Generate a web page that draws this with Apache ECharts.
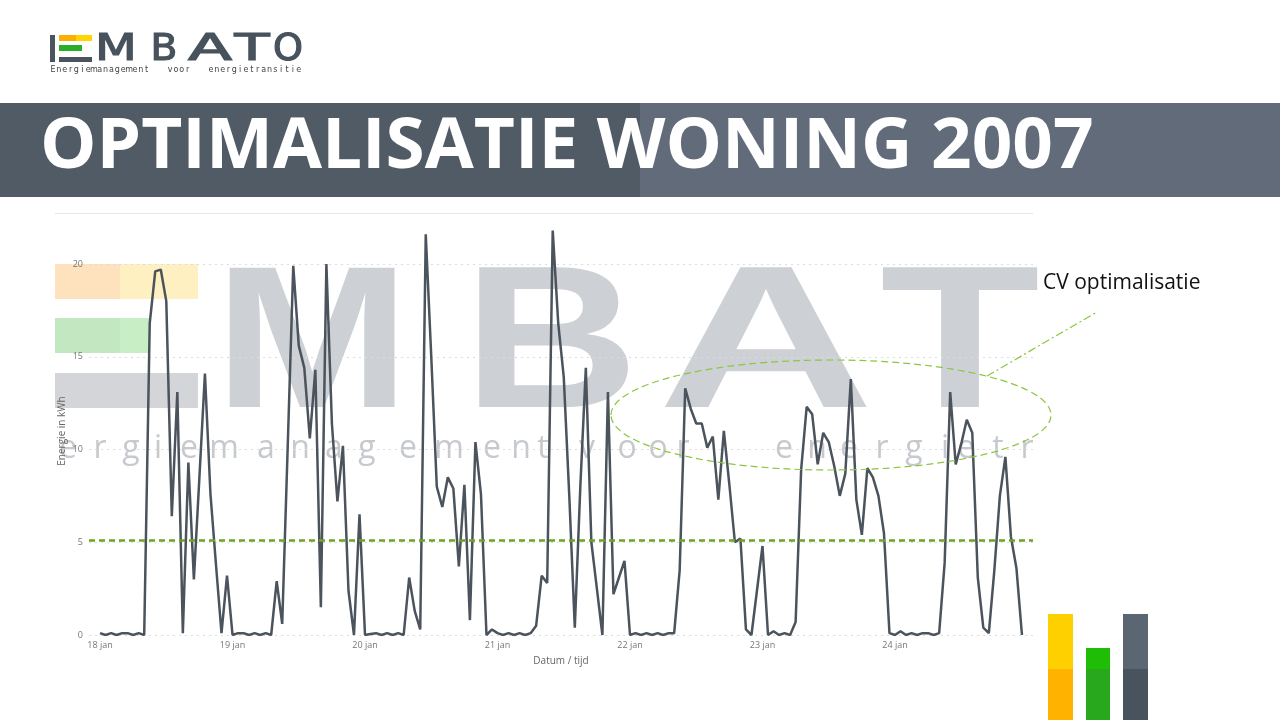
<!DOCTYPE html>
<html>
<head>
<meta charset="utf-8">
<title>Optimalisatie woning 2007</title>
<script src="https://cdn.jsdelivr.net/npm/echarts@6/dist/echarts.min.js"></script>
<style>
  html, body { margin: 0; padding: 0; background: #fff; }
  #myChart { width: 1280px; height: 720px; }
</style>
</head>
<body>
<div id="myChart"></div>
<script>
// uurwaarden energie (kWh) per dag, 18 t/m 24 jan
var dag18 = [0.1, 0.0, 0.1, 0.0, 0.1, 0.1, 0.0, 0.1, 0.0, 16.8, 19.6, 19.7, 18.0, 6.4, 13.1, 0.1, 9.3, 3.0, 8.5, 14.1, 7.6, 3.8, 0.1, 3.2];
var dag19 = [0.0, 0.1, 0.1, 0.0, 0.1, 0.0, 0.1, 0.0, 2.9, 0.6, 10.2, 19.9, 15.6, 14.4, 10.6, 14.3, 1.5, 20.0, 11.4, 7.2, 10.2, 2.4, 0.0, 6.5];
var dag20 = [0.0, 0.05, 0.1, 0.0, 0.1, 0.0, 0.1, 0.0, 3.1, 1.3, 0.3, 21.6, 15.0, 8.0, 6.9, 8.5, 7.9, 3.7, 8.1, 0.8, 10.4, 7.6, 0.0, 0.3];
var dag21 = [0.1, 0.0, 0.1, 0.0, 0.1, 0.0, 0.1, 0.5, 3.2, 2.8, 21.8, 16.8, 13.9, 7.5, 0.4, 8.0, 14.4, 5.0, 2.5, 0.0, 13.1, 2.2, 3.1, 4.0];
var dag22 = [0.0, 0.1, 0.0, 0.1, 0.0, 0.1, 0.0, 0.1, 0.1, 3.5, 13.3, 12.2, 11.4, 11.4, 10.1, 10.7, 7.3, 11.0, 8.1, 5.0, 5.2, 0.3, 0.0, 2.4];
var dag23 = [4.8, 0.0, 0.2, 0.0, 0.1, 0.0, 0.7, 8.9, 12.3, 11.9, 9.2, 10.9, 10.4, 9.1, 7.5, 8.7, 13.8, 7.3, 5.4, 9.0, 8.5, 7.5, 5.5, 0.1];
var dag24 = [0.0, 0.2, 0.0, 0.1, 0.0, 0.1, 0.1, 0.0, 0.1, 3.9, 13.1, 9.2, 10.3, 11.6, 10.9, 3.1, 0.4, 0.1, 3.5, 7.5, 9.6, 5.3, 3.6, 0.0];

var dagLabels = ['18 jan', '19 jan', '20 jan', '21 jan', '22 jan', '23 jan', '24 jan'];
var dagTicks = [0, 24, 48, 72, 96, 120, 144];
var yTicks = [0, 5, 10, 15, 20];
var drempel = 5.1;

var uren = dag18.concat(dag19, dag20, dag21, dag22, dag23, dag24);

// watermerk (EMBATO logo op achtergrond)
var wmText = 'ergiemanagementvoorenergietr';
var wmX = [68, 100, 131, 158, 189, 224, 266, 300, 334, 367, 408, 449, 492, 521, 543, 587, 627, 658, 683, 784, 817, 849, 882, 914, 945, 966, 998, 1027];

function txt(s, x, y, opt) {
  var st = {
    text: s, fill: opt.fill, fontSize: opt.size, fontFamily: opt.family || 'Open Sans',
    fontWeight: opt.weight || 'normal',
    align: opt.align || 'center', textAlign: opt.align || 'center',
    verticalAlign: 'middle', textVerticalAlign: 'middle'
  }
  if (opt.stroke) { st.stroke = opt.fill; st.lineWidth = opt.stroke }
  return { type: 'text', x: x, y: y, z: opt.z || 1, scaleX: opt.sx || 1, style: st }
}

function rect(x, y, w, h, fill, z) {
  return { type: 'rect', z: z || 1, shape: { x: x, y: y, width: w, height: h }, style: { fill: fill } }
}

var g = []
// titelbalk
g.push(rect(0, 103, 640, 94, '#515b66'))
g.push(rect(640, 103, 640, 94, '#626b7a'))
g.push(txt('OPTIMALISATIE WONING 2007', 40, 148, { fill: '#fff', size: 69, weight: 'bold', align: 'left', z: 5, sx: 1.03 }))

// logo linksboven
g.push(rect(50, 35, 5, 27, '#4a545f'))
g.push(rect(59, 35, 17, 6, '#f9b000'))
g.push(rect(76, 35, 16, 6, '#ffd400'))
g.push(rect(59, 45, 23, 6, '#2aae2a'))
g.push(rect(59, 57, 33, 5, '#4a545f'))
var logoL = ['M', 'B', 'A', 'T', 'O']
var logoX = [116, 164, 210, 252, 288]
var logoS = [1.31, 1.06, 1.74, 1.55, 1.03]
logoL.forEach(function (c, i) {
  g.push(txt(c, logoX[i], 50, { fill: '#48525d', size: 37, family: 'DejaVu Sans', sx: logoS[i], stroke: 1.2 }))
})
var sub = 'Energiemanagement   voor   energietransitie'
for (var i = 0; i < sub.length; i++) {
  if (sub[i] !== ' ') g.push(txt(sub[i], 53 + i * 5.85, 70, { fill: '#444', size: 8, family: 'DejaVu Sans' }))
}

// watermerk in de grafiek
g.push(rect(55, 264, 65, 35, '#fde2bd'))
g.push(rect(120, 264, 78, 35, '#fff0c1'))
g.push(rect(55, 318, 65, 35, '#c3e8c1'))
g.push(rect(120, 318, 30, 35, '#c8eec6'))
g.push(rect(55, 373, 143, 35, '#d3d5d8'))
var bigL = ['M', 'B', 'A', 'T']
var bigX = [312, 551, 766, 960]
var bigS = [1.16, 1.2, 1.48, 1.29]
bigL.forEach(function (c, i) {
  g.push(txt(c, bigX[i], 351, { fill: '#cdd0d4', size: 203, family: 'Liberation Sans', weight: 'bold', sx: bigS[i] }))
})
for (var j = 0; j < wmText.length; j++) {
  g.push(txt(wmText[j], wmX[j], 449, { fill: '#c6c9cd', size: 32 }))
}

// bovenrand
g.push({ type: 'line', z: 5, shape: { x1: 55, y1: 213.5, x2: 1033, y2: 213.5 }, style: { stroke: '#e6e6e6', lineWidth: 1 } })

// annotatie
g.push({ type: 'ellipse', z: 10, shape: { cx: 831, cy: 415, rx: 220, ry: 55 },
  style: { fill: 'none', stroke: '#8cc63f', lineWidth: 1.2, lineDash: [7, 4] } })
g.push({ type: 'line', z: 10, shape: { x1: 987, y1: 376, x2: 1097, y2: 312 },
  style: { stroke: '#8cc63f', lineWidth: 1.2, lineDash: [8, 3, 2, 3] } })
g.push(txt('CV optimalisatie', 1043, 283, { fill: '#111', size: 21, align: 'left', z: 10 }))

// balkjes rechtsonder
g.push(rect(1048, 614, 25, 55, '#ffd000', 5))
g.push(rect(1048, 669, 25, 51, '#ffb300', 5))
g.push(rect(1086, 648, 24, 21, '#1fbd05', 5))
g.push(rect(1086, 669, 24, 51, '#28a81c', 5))
g.push(rect(1123, 614, 25, 55, '#5a6672', 5))
g.push(rect(1123, 669, 25, 51, '#48535d', 5))

var myChart = echarts.init(document.getElementById('myChart'))
var option = {
  animation: false,
  backgroundColor: '#fff',
  grid: { left: 89, right: 247, top: 213, bottom: 85, containLabel: false },
  xAxis: {
    type: 'value',
    min: -2,
    max: 169,
    z: 2,
    name: 'Datum / tijd',
    nameLocation: 'middle',
    nameGap: 21,
    nameMoveOverlap: false,
    nameTextStyle: { color: '#666', fontSize: 10, fontFamily: 'Open Sans' },
    axisLine: { show: false },
    axisTick: { show: false },
    splitLine: { show: false },
    axisLabel: {
      customValues: dagTicks,
      margin: 6,
      color: '#777',
      fontSize: 9,
      fontFamily: 'Open Sans',
      formatter: function (v) { return dagLabels[Math.round(v / 24)] || '' }
    }
  },
  yAxis: {
    type: 'value',
    min: 0,
    max: 22.75,
    interval: 5,
    z: 2,
    name: 'Energie in kWh',
    nameLocation: 'middle',
    nameGap: 22,
    nameMoveOverlap: false,
    nameTextStyle: { color: '#666', fontSize: 10, fontFamily: 'Open Sans', padding: [0, 14, 0, 0] },
    axisLine: { show: false },
    axisTick: { show: false },
    axisLabel: {
      margin: 6,
      color: '#777',
      fontSize: 9,
      fontFamily: 'Open Sans',
      formatter: function (v) { return yTicks.indexOf(v) >= 0 ? v : '' }
    },
    splitLine: { show: true, lineStyle: { color: '#dcdcdc', type: [2, 4], width: 1 } }
  },
  graphic: { elements: g },
  series: [{
    name: 'Energie',
    type: 'line',
    z: 3,
    data: uren.map(function (v, i) { return [i, v] }),
    showSymbol: false,
    symbol: 'none',
    lineStyle: { color: '#4b535d', width: 2.5 },
    markLine: {
      silent: true,
      symbol: 'none',
      label: { show: false },
      lineStyle: { color: '#6aa520', width: 2.5, type: [6, 4] },
      data: [{ yAxis: drempel }]
    }
  }]
}
myChart.setOption(option)
</script>
</body>
</html>
